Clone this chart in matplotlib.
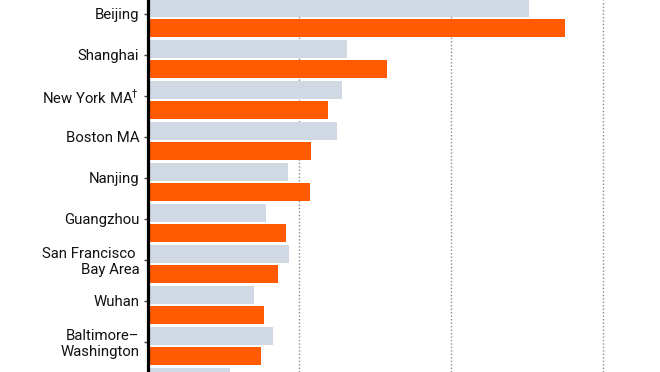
import matplotlib
matplotlib.use("Agg")
import matplotlib.pyplot as plt
import numpy as np

# Cities (top to bottom); last one is cut off in the reference
cities = ["Beijing", "Shanghai", r"New York MA$^{\dagger}$", "Boston MA", "Nanjing",
          "Guangzhou", "San Francisco \nBay Area", "Wuhan",
          "Baltimore\u2013\nWashington", ""]
grey_vals = [2518, 1312, 1279, 1252, 923, 778, 936, 699, 824, 547]
orange_vals = [2749, 1576, 1187, 1081, 1068, 910, 857, 765, 745, np.nan]
grid_ticks = [1000, 2000, 3000]

plt.rcParams['font.family'] = ['Roboto', 'DejaVu Sans']

fig = plt.figure(figsize=(6.6, 3.72), dpi=100)
ax = fig.add_axes([147.5 / 660, 0, 512.5 / 660, 1])

y = np.arange(len(cities))
h = 0.427
off = 0.238
ax.barh(y - off, grey_vals, height=h, color='#d0d8e3', zorder=2)
ax.barh(y + off, orange_vals, height=h, color='#ff5a00', zorder=2)

ax.set_xticks(grid_ticks)
ax.tick_params(axis='x', length=0, labelbottom=False)
ax.xaxis.grid(True, color='#8a8a8a', linestyle=(0, (1, 1.5)), linewidth=1)
ax.set_axisbelow(True)

ax.set_yticks(y - 0.1)
ax.set_yticklabels(cities, fontsize=10.7, color='#111111', linespacing=1.15)
ax.tick_params(axis='y', length=3, width=1, color='#444444', pad=3)

# limits after ticks so set_yticks doesn't widen the view
ax.set_xlim(0, 512.5 / 151.7 * 1000)
ax.set_ylim((372 - 18) / 41, -18 / 41)

for s in ['top', 'right', 'bottom']:
    ax.spines[s].set_visible(False)
ax.spines['left'].set_linewidth(2.3)
ax.spines['left'].set_color('black')
ax.spines['left'].set_zorder(5)

fig.savefig('out.png', dpi=100)
